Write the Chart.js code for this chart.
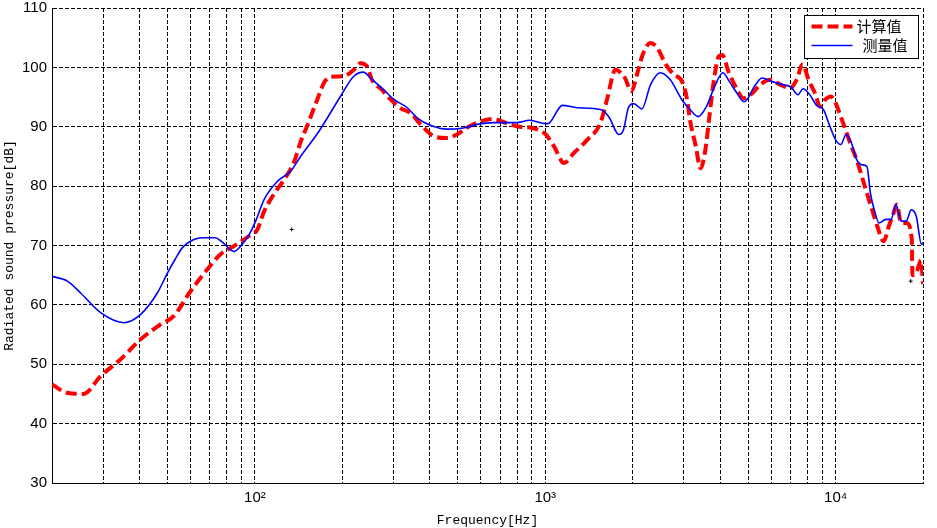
<!DOCTYPE html>
<html lang="zh">
<head>
  <meta charset="UTF-8">
  <title>Radiated sound pressure</title>
  <script src="https://cdn.jsdelivr.net/npm/chart.js"></script>
  <style>
    html, body { margin: 0; padding: 0; background: #fff; }
  </style>
</head>
<body>
  <canvas id="splChart" width="937" height="528"></canvas>

  <script>
    // 计算值 (calculated), frequency in Hz / level in dB
    const calcFreq = [20, 22.5, 25.7, 29.4, 34.4, 40.4, 47.3, 52.5, 60, 68.6, 76, 84.7, 95.4, 102, 107, 115, 126, 136, 144, 151.5,
      164, 173, 182, 202, 219, 231, 243, 253, 274, 293, 318, 344, 372, 414, 459, 496, 535, 598, 663, 735,
      815, 903, 1004, 1072, 1160, 1256, 1395, 1548, 1632, 1745, 1818, 1882, 1980, 2083, 2163, 2305, 2430, 2600, 2770, 2960,
      3080, 3150, 3300, 3425, 3560, 3665, 3810, 3965, 4070, 4290, 4520, 4820, 5150, 5500, 5970, 6440, 6970, 7340, 7700, 8070,
      8500, 8840, 9220, 9630, 10000, 10420, 10870, 11330, 11810, 12300, 12820, 13360, 13930, 14640, 15240, 15850, 16250, 16810, 17570, 18300,
      18400, 19000, 19700, 20000];
    const calcSpl = [46.6, 45.2, 45.0, 48.0, 50.8, 54.2, 56.7, 58.1, 62.3, 66.0, 68.5, 69.9, 71.6, 72.7, 75.5, 78.3, 81.1, 83.9, 87.6, 90.2,
      94.6, 97.4, 98.4, 98.5, 99.6, 100.7, 100.2, 97.9, 96.2, 94.6, 93.1, 92.3, 90.4, 88.4, 88.1, 88.7, 89.8, 90.9, 91.3, 90.6,
      90.0, 89.8, 88.7, 86.7, 83.9, 85.6, 87.8, 90.6, 94.6, 99.6, 99.1, 98.2, 96.0, 99.3, 102.1, 104.1, 103.3, 100.5, 98.8, 97.6,
      94.6, 91.2, 86.7, 83.0, 86.1, 91.2, 97.9, 101.9, 102.1, 99.1, 96.8, 94.8, 95.6, 97.1, 97.9, 97.1, 96.5, 97.9, 100.5, 97.9,
      95.6, 93.4, 94.6, 95.1, 94.0, 91.7, 89.2, 86.7, 84.5, 81.7, 78.8, 76.0, 73.2, 70.7, 73.2, 75.5, 76.9, 73.8, 73.8, 71.0,
      65.0, 65.5, 67.5, 63.5];

    // 测量值 (measured)
    const measFreq = [20, 22.6, 25.1, 29.4, 35.4, 40.4, 46.1, 50, 53, 56.2, 61.7, 66, 73, 77, 84.7, 89.3, 95.4, 100.6, 107.4, 119.5,
      132.7, 143.6, 166, 197, 219, 236.5, 250, 278, 301, 335, 362, 404, 459, 522, 583, 663, 796, 883, 1004, 1030,
      1146, 1290, 1548, 1655, 1792, 1860, 1933, 2015, 2152, 2305, 2491, 2696, 2950, 3150, 3363, 3590, 3834, 4090, 4307, 4540,
      4840, 5300, 5580, 6050, 6545, 7010, 7420, 7730, 8150, 8600, 9080, 9470, 10000, 10420, 10870, 11330, 11810, 12300, 12820, 13180,
      13540, 14120, 14900, 15510, 16150, 16810, 17500, 18220, 18970, 19750, 20000];
    const measSpl = [64.8, 64.0, 62.0, 58.7, 57.0, 58.4, 62.0, 65.4, 67.6, 69.6, 71.0, 71.3, 71.3, 70.6, 69.0, 69.9, 71.8, 74.1, 77.7, 80.8,
      82.5, 85.0, 89.2, 95.1, 98.5, 99.2, 98.2, 96.2, 94.6, 93.2, 91.5, 90.2, 89.6, 89.8, 90.4, 90.7, 90.7, 91.1, 90.5, 90.6,
      93.6, 93.2, 92.9, 91.7, 88.7, 89.5, 93.2, 93.9, 93.0, 97.1, 99.1, 97.9, 94.6, 92.9, 91.7, 93.4, 96.8, 99.1, 97.6, 95.9,
      94.2, 97.1, 98.2, 97.6, 97.1, 96.7, 95.4, 96.4, 95.4, 93.6, 92.9, 90.6, 87.8, 87.0, 88.7, 87.3, 84.5, 83.6, 83.3, 78.8,
      76.3, 73.8, 74.4, 74.4, 76.9, 74.1, 74.1, 76.0, 74.9, 70.2, 70.5];

    // two stray marks in the original figure
    const strayFreq = [133.8, 18140];
    const straySpl = [72.7, 64.0];

    const seriesNames = ['计算值', '测量值'];
    const yTicks = [30, 40, 50, 60, 70, 80, 90, 100, 110];
    const xDecades = [100, 1000, 10000];
    const xDecadeLabels = ['10²', '10³', '10⁴'];
    const xMin = 20, xMax = 20000;

    // log grid: 1..9 per decade
    const xGrid = [];
    [10, 100, 1000, 10000].forEach(d => {
      for (let m = 1; m <= 9; m++) {
        const v = d * m;
        if (v >= xMin && v <= xMax) xGrid.push(v);
      }
    });

    const toPoints = (xs, ys) => xs.map((x, i) => ({ x: x, y: ys[i] }));

    const boxLegend = {
      id: 'boxLegend',
      afterDraw(chart) {
        const ctx = chart.ctx;
        const area = chart.chartArea;
        const w = 114, h = 43;
        const x0 = Math.round(area.right - 5 - w) + 0.5;
        const y0 = Math.round(area.top + 7) + 0.5;
        ctx.save();
        ctx.fillStyle = '#fff';
        ctx.fillRect(x0, y0, w, h);
        ctx.strokeStyle = '#000';
        ctx.lineWidth = 1;
        ctx.setLineDash([]);
        ctx.strokeRect(x0, y0, w, h);

        const rows = [11, 30];
        const textX = [52, 58];
        chart.data.datasets.slice(0, 2).forEach((ds, i) => {
          const y = y0 + rows[i];
          ctx.beginPath();
          ctx.strokeStyle = ds.borderColor;
          ctx.lineWidth = ds.borderWidth;
          ctx.setLineDash(ds.borderDash || []);
          ctx.moveTo(x0 + 7, y);
          ctx.lineTo(x0 + 48, y);
          ctx.stroke();
          ctx.setLineDash([]);
          ctx.fillStyle = '#000';
          ctx.font = '15px "Noto Sans CJK SC", sans-serif';
          ctx.textBaseline = 'middle';
          ctx.textAlign = 'left';
          ctx.fillText(ds.label, x0 + textX[i], y);
        });
        ctx.restore();
      }
    };

    const config = {
      type: 'scatter',
      data: {
        datasets: [
          {
            label: seriesNames[0],
            data: toPoints(calcFreq, calcSpl),
            showLine: true,
            borderColor: '#ff0000',
            backgroundColor: '#ff0000',
            borderWidth: 4,
            borderDash: [11, 5],
            pointRadius: 0,
            cubicInterpolationMode: 'monotone',
            order: 2
          },
          {
            label: seriesNames[1],
            data: toPoints(measFreq, measSpl),
            showLine: true,
            borderColor: '#0000ff',
            backgroundColor: '#0000ff',
            borderWidth: 1.6,
            pointRadius: 0,
            cubicInterpolationMode: 'monotone',
            order: 1
          },
          {
            label: 'stray',
            data: toPoints(strayFreq, straySpl),
            pointStyle: 'cross',
            pointRadius: 2,
            borderColor: '#000',
            borderWidth: 1,
            order: 0
          }
        ]
      },
      options: {
        responsive: false,
        animation: false,
        devicePixelRatio: 1,
        layout: { padding: { top: 8, right: 14, bottom: 0, left: 0 } },
        scales: {
          x: {
            type: 'logarithmic',
            min: xMin,
            max: xMax,
            afterBuildTicks: axis => { axis.ticks = xGrid.map(v => ({ value: v })); },
            afterFit: axis => { axis.height = 45; axis.paddingLeft = 0; axis.paddingRight = 0; },
            ticks: {
              autoSkip: false,
              maxRotation: 0,
              padding: 6,
              color: '#000',
              font: { family: '"Liberation Sans", Arial, sans-serif', size: 15 },
              callback: v => {
                const i = xDecades.indexOf(v);
                return i >= 0 ? xDecadeLabels[i] : '';
              }
            },
            grid: { color: '#000', lineWidth: 1, drawTicks: false },
            border: { display: true, color: '#000', width: 1, dash: [4, 2] },
            title: {
              display: true,
              text: 'Frequency[Hz]',
              color: '#000',
              padding: { top: 0, bottom: 0 },
              font: { family: '"Liberation Mono", monospace', size: 13 }
            }
          },
          y: {
            min: 30,
            max: 110,
            afterBuildTicks: axis => { axis.ticks = yTicks.map(v => ({ value: v })); },
            afterFit: axis => { axis.width = 52; axis.paddingTop = 0; axis.paddingBottom = 0; },
            ticks: {
              padding: 5,
              color: '#000',
              font: { family: '"Liberation Sans", Arial, sans-serif', size: 15 }
            },
            grid: { color: '#000', lineWidth: 1, drawTicks: false },
            border: { display: true, color: '#000', width: 1, dash: [4, 2] },
            title: {
              display: true,
              text: 'Radiated sound pressure[dB]',
              color: '#000',
              padding: { top: 2, bottom: 0 },
              font: { family: '"Liberation Mono", monospace', size: 13 }
            }
          }
        },
        plugins: {
          legend: { display: false },
          tooltip: { enabled: false }
        }
      },
      plugins: [boxLegend]
    };

    new Chart(document.getElementById('splChart'), config);
  </script>
</body>
</html>
